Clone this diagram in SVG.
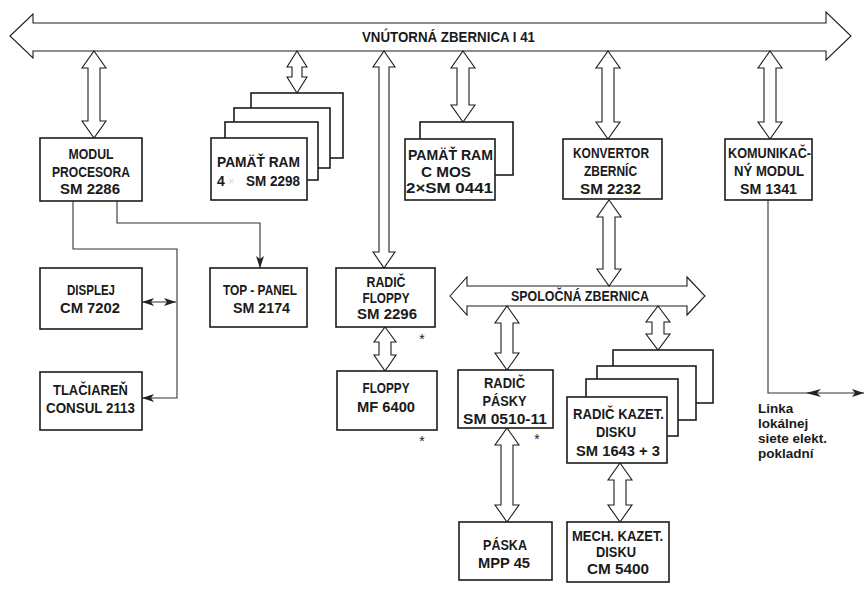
<svg xmlns="http://www.w3.org/2000/svg" width="865" height="590" viewBox="0 0 865 590">
<style>
.box{fill:#fff;stroke:#1c1c1c;stroke-width:1.6}
.ba{fill:#fff;stroke:#1c1c1c;stroke-width:1.1;stroke-linejoin:miter}
.ln{fill:none;stroke:#333;stroke-width:1.1}
.hd{fill:#222;stroke:none}
.t{font-family:"Liberation Sans",Arial,sans-serif;font-weight:bold;font-size:14px;fill:#1a1a1a;text-anchor:middle}
.s{text-anchor:start}
.n{font-weight:normal}
.lk{font-size:13.5px}
</style>
<defs>
<marker id="ah" viewBox="0 0 12 8" refX="12" refY="4" markerWidth="12" markerHeight="8" orient="auto-start-reverse" markerUnits="userSpaceOnUse">
<path d="M0,0 L12,4 L0,8 L3,4 z" fill="#222"/>
</marker>
</defs>
<rect width="865" height="590" fill="#fff"/>

<g id="bus-vnutorna">
<polygon class="ba" points="10,36 33,14 33,23 826,23 826,12 851,36 826,60 826,51 33,51 33,58"/>
<text class="t s" x="362" y="42" textLength="173" lengthAdjust="spacingAndGlyphs">VNÚTORNÁ ZBERNICA I 41</text>
</g>

<g id="bus-spolocna">
<polygon class="ba" points="450,296 467,277 467,286 687,286 687,277 705,296 687,315 687,306 467,306 467,315"/>
<text class="t s" x="511" y="301" textLength="138" lengthAdjust="spacingAndGlyphs">SPOLOČNÁ ZBERNICA</text>
</g>

<g id="connectors">
<polygon class="ba" points="94,51 106,68 100,68 100,121 106,121 94,138 82,121 88,121 88,68 82,68"/>
<polygon class="ba" points="297,51 307,67 302,67 302,77 307,77 297,93 287,77 292,77 292,67 287,67"/>
<polygon class="ba" points="384,51 395,67 389,67 389,252 395,252 384,268 373,252 379,252 379,67 373,67"/>
<polygon class="ba" points="463,51 475,68 469,68 469,105 475,105 463,122 451,105 457,105 457,68 451,68"/>
<polygon class="ba" points="608,51 620,68 614,68 614,122 620,122 608,139 596,122 602,122 602,68 596,68"/>
<polygon class="ba" points="770,51 782,68 776,68 776,122 782,122 770,139 758,122 764,122 764,68 758,68"/>
<polygon class="ba" points="609,200 621,217 615,217 615,269 621,269 609,286 597,269 603,269 603,217 597,217"/>
<polygon class="ba" points="385,327 396,342 391,342 391,355 396,355 385,371 374,355 379,355 379,342 374,342"/>
<polygon class="ba" points="507,306 519,323 513,323 513,353 519,353 507,370 495,353 501,353 501,323 495,323"/>
<polygon class="ba" points="507,428 519,445 513,445 513,505 519,505 507,522 495,505 501,505 501,445 495,445"/>
<polygon class="ba" points="658,306 670,322 664,322 664,334 670,334 658,350 646,334 652,334 652,322 646,322"/>
<polygon class="ba" points="620,463 632,480 626,480 626,505 632,505 620,522 608,505 614,505 614,480 608,480"/>
<path class="ln" d="M73,201 V249 H177 V398 H142" marker-end="url(#ah)"/>
<path class="ln" d="M142,302 H176" marker-start="url(#ah)" marker-end="url(#ah)"/>
<path class="ln" d="M117,201 V223 H260 V268" marker-end="url(#ah)"/>
<path class="ln" d="M768,200 V393 H864" marker-end="url(#ah)"/>
<path class="hd" d="M806,393 L821,389 L817,393 L821,397 z"/>
</g>

<g id="modul-procesora">
<rect class="box" x="40" y="138" width="102" height="63"/>
<text class="t" x="91" y="159" textLength="45" lengthAdjust="spacingAndGlyphs">MODUL</text>
<text class="t" x="91" y="177" textLength="78" lengthAdjust="spacingAndGlyphs">PROCESORA</text>
<text class="t" x="90" y="194" textLength="60" lengthAdjust="spacingAndGlyphs">SM 2286</text>
</g>

<g id="pamat-ram">
<rect class="box" x="251" y="93" width="92" height="65"/>
<rect class="box" x="234" y="108" width="96" height="60"/>
<rect class="box" x="225" y="122" width="93" height="58"/>
<rect class="box" x="211" y="138" width="96" height="62"/>
<text class="t s" x="217" y="167" textLength="83" lengthAdjust="spacingAndGlyphs">PAMÄŤ RAM</text>
<text class="t s" x="217" y="186">4</text>
<text class="t s n" x="228" y="185" style="fill:#d8d8d8;font-size:11px">×</text>
<text class="t s" x="246" y="186" textLength="54" lengthAdjust="spacingAndGlyphs">SM 2298</text>
</g>

<g id="pamat-ram-cmos">
<rect class="box" x="420" y="122" width="93" height="53"/>
<rect class="box" x="405" y="139" width="90" height="61"/>
<text class="t" x="450.5" y="160" textLength="85" lengthAdjust="spacingAndGlyphs">PAMÄŤ RAM</text>
<text class="t" x="446" y="177" textLength="50" lengthAdjust="spacingAndGlyphs">C MOS</text>
<text class="t" x="449.5" y="193" textLength="87" lengthAdjust="spacingAndGlyphs">2×SM 0441</text>
</g>

<g id="konvertor-zbernic">
<rect class="box" x="563" y="139" width="99" height="60"/>
<text class="t" x="611" y="158" textLength="76" lengthAdjust="spacingAndGlyphs">KONVERTOR</text>
<text class="t" x="610.5" y="176" textLength="53" lengthAdjust="spacingAndGlyphs">ZBERNÍC</text>
<text class="t" x="610.5" y="194" textLength="61" lengthAdjust="spacingAndGlyphs">SM 2232</text>
</g>

<g id="komunikacny-modul">
<rect class="box" x="725" y="139" width="87" height="61"/>
<text class="t" x="769.5" y="158" textLength="83" lengthAdjust="spacingAndGlyphs">KOMUNIKAČ-</text>
<text class="t" x="769" y="176" textLength="70" lengthAdjust="spacingAndGlyphs">NÝ MODUL</text>
<text class="t" x="768.5" y="194" textLength="57" lengthAdjust="spacingAndGlyphs">SM 1341</text>
</g>

<g id="displej">
<rect class="box" x="40" y="268" width="102" height="61"/>
<text class="t" x="91" y="295" textLength="48" lengthAdjust="spacingAndGlyphs">DISPLEJ</text>
<text class="t" x="90" y="313" textLength="60" lengthAdjust="spacingAndGlyphs">CM 7202</text>
</g>

<g id="tlaciaren">
<rect class="box" x="40" y="372" width="102" height="58"/>
<text class="t" x="90.5" y="395" textLength="75" lengthAdjust="spacingAndGlyphs">TLAČIAREŇ</text>
<text class="t" x="90.5" y="413" textLength="89" lengthAdjust="spacingAndGlyphs">CONSUL 2113</text>
</g>

<g id="top-panel">
<rect class="box" x="210" y="268" width="97" height="59"/>
<text class="t" x="260" y="295" textLength="74" lengthAdjust="spacingAndGlyphs">TOP - PANEL</text>
<text class="t" x="261.5" y="313" textLength="57" lengthAdjust="spacingAndGlyphs">SM 2174</text>
</g>

<g id="radic-floppy">
<rect class="box" x="336" y="268" width="99" height="59"/>
<text class="t" x="386" y="287" textLength="39" lengthAdjust="spacingAndGlyphs">RADIČ</text>
<text class="t" x="386" y="303" textLength="47" lengthAdjust="spacingAndGlyphs">FLOPPY</text>
<text class="t" x="387" y="319" textLength="60" lengthAdjust="spacingAndGlyphs">SM 2296</text>
<text class="t n" x="422" y="344">*</text>
</g>

<g id="floppy">
<rect class="box" x="337" y="371" width="100" height="59"/>
<text class="t" x="386" y="393" textLength="47" lengthAdjust="spacingAndGlyphs">FLOPPY</text>
<text class="t" x="386" y="412" textLength="58" lengthAdjust="spacingAndGlyphs">MF 6400</text>
<text class="t n" x="422" y="446">*</text>
</g>

<g id="radic-pasky">
<rect class="box" x="458" y="370" width="95" height="58"/>
<text class="t" x="504.5" y="388" textLength="41" lengthAdjust="spacingAndGlyphs">RADIČ</text>
<text class="t" x="504.5" y="406" textLength="44" lengthAdjust="spacingAndGlyphs">PÁSKY</text>
<text class="t" x="505" y="424" textLength="84" lengthAdjust="spacingAndGlyphs">SM 0510-11</text>
<text class="t n" x="537" y="444">*</text>
</g>

<g id="paska">
<rect class="box" x="459" y="522" width="93" height="58"/>
<text class="t" x="505" y="550" textLength="44" lengthAdjust="spacingAndGlyphs">PÁSKA</text>
<text class="t" x="504" y="568" textLength="52" lengthAdjust="spacingAndGlyphs">MPP 45</text>
</g>

<g id="radic-kazet-disku">
<rect class="box" x="613" y="350" width="100" height="53"/>
<rect class="box" x="597" y="366" width="99" height="54"/>
<rect class="box" x="586" y="379" width="92" height="57"/>
<rect class="box" x="567" y="397" width="100" height="66"/>
<text class="t" x="618.5" y="419" textLength="91" lengthAdjust="spacingAndGlyphs">RADIČ KAZET.</text>
<text class="t" x="616" y="437" textLength="40" lengthAdjust="spacingAndGlyphs">DISKU</text>
<text class="t" x="618" y="456" textLength="84" lengthAdjust="spacingAndGlyphs">SM 1643 + 3</text>
</g>

<g id="mech-kazet-disku">
<rect class="box" x="567" y="522" width="102" height="60"/>
<text class="t" x="617.5" y="541" textLength="91" lengthAdjust="spacingAndGlyphs">MECH. KAZET.</text>
<text class="t" x="616" y="557" textLength="40" lengthAdjust="spacingAndGlyphs">DISKU</text>
<text class="t" x="618" y="574" textLength="62" lengthAdjust="spacingAndGlyphs">CM 5400</text>
</g>

<g id="linka">
<text class="t s lk" x="758" y="413">Linka</text>
<text class="t s lk" x="758" y="428">lokálnej</text>
<text class="t s lk" x="758" y="443">siete elekt.</text>
<text class="t s lk" x="758" y="458">pokladní</text>
</g>
</svg>
